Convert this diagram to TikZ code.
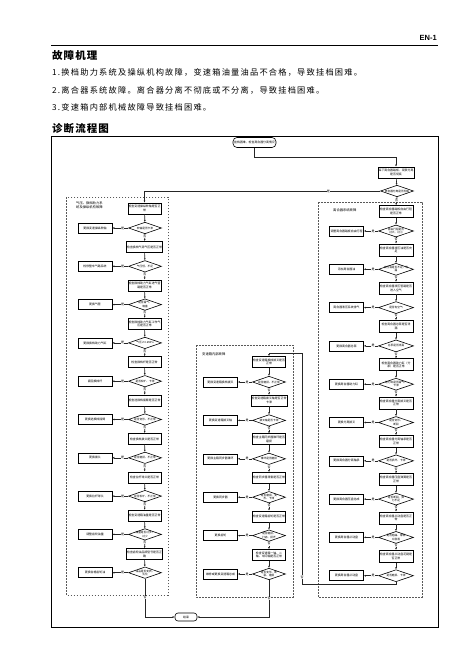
\documentclass[tikz,border=0pt]{standalone}
\usepackage{fontspec}
\setmainfont{Noto Sans CJK SC}
\newfontfamily\arialf{Liberation Sans}
\usetikzlibrary{shapes.geometric,arrows.meta}
\newcommand\hdrfont{\fontsize{8.2}{9}\selectfont\addfontfeature{LetterSpace=15}}
\newcommand\ttlfont{\bfseries\fontsize{10.5}{11}\selectfont\addfontfeature{LetterSpace=10}}
\begin{document}
\begin{tikzpicture}[x=1pt,y=-1pt,
  box/.style={draw, line width=0.6pt, minimum width=33pt, minimum height=11pt, inner sep=0.4pt, align=center, font=\fontsize{2.9}{3.6}\selectfont},
  act/.style={box, minimum width=34pt, minimum height=10pt},
  decs/.style={diamond, draw, line width=0.6pt, minimum width=33pt, minimum height=11.5pt, inner sep=0pt},
  dtxt/.style={align=center, inner sep=0pt, font=\fontsize{2.7}{3.3}\selectfont},
  term/.style={draw, line width=0.6pt, rounded corners=4pt, minimum width=43pt, minimum height=10pt, inner sep=0.4pt, font=\fontsize{2.9}{3.6}\selectfont},
  lab/.style={fill=white, inner sep=0.3pt, font=\fontsize{3}{3}\selectfont},
  arr/.style={line width=0.6pt, draw=black!85, -{Latex[length=2pt,width=1.8pt]}},
  grp/.style={draw=black!65, dash pattern=on 1.6pt off 1.4pt, line width=0.5pt},
  glab/.style={anchor=north west, align=left, inner sep=0pt, font=\fontsize{3.3}{4}\selectfont}
]
\useasboundingbox (0,0) rectangle (471,661);

% ---------- header ----------
\node[anchor=east, inner sep=0pt, font=\arialf\bfseries\fontsize{7.5}{8}\selectfont] (en) at (437,37.5) {EN-1};
\draw[line width=0.8pt] (51,45) -- (438,45);
\node[anchor=west, inner sep=0pt, font=\ttlfont] (h1) at (52,55.5) {故障机理};
\node[anchor=west, inner sep=0pt, font=\hdrfont] (p1) at (52,72.5) {1.换档助力系统及操纵机构故障，变速箱油量油品不合格，导致挂档困难。};
\node[anchor=west, inner sep=0pt, font=\hdrfont] (p2) at (52,90) {2.离合器系统故障。离合器分离不彻底或不分离，导致挂档困难。};
\node[anchor=west, inner sep=0pt, font=\hdrfont] (p3) at (52,107.5) {3.变速箱内部机械故障导致挂档困难。};
\node[anchor=west, inner sep=0pt, font=\ttlfont] (h2) at (52,129) {诊断流程图};

% ---------- frame ----------
\draw[line width=0.8pt] (51,136.7) rectangle (438,627);

% ---------- groups ----------
\draw[grp] (66.7,197) rectangle (168,595);
\draw[grp] (196,345) rectangle (293,597);
\draw[grp] (318,202) rectangle (422,597);
\node[glab] (gl) at (76,201.5) {气压、换档助力系\\统及操纵机构故障};
\node[glab] (gm) at (202,352) {变速箱内部故障};
\node[glab] (gr) at (333,209) {离合器系统故障};

% ---------- top ----------
\node[term] (start) at (254.5,142.5) {挂档困难，检查离合器分离情况};
\node[box, minimum width=34pt] (T1) at (396,172.5) {踩下离合器踏板，观察分离\\是否彻底};
\node[decs] (DT) at (397,191) {};
\node[dtxt] (DTt) at (DT) {离合器分离是否彻底};

% ---------- left column ----------
\foreach \bx/\dx/\ax [count=\i from 1] in {
 {检查变速操纵软轴是否正\\常}/{软轴是否卡滞}/{更换变速操纵软轴},
 {检查换档气源气压是否正常}/{气压低、不足}/{检修整车气路系统},
 {检查换档助力气缸进气管\\路是否正常}/{是否漏气、\\堵塞}/{更换气管},
 {检查换档助力气缸工作气\\压是否正常}/{气压≥0.6MPa}/{更换换档助力气缸},
 {检查换档杆是否正常}/{是否松旷、卡滞}/{紧固换档杆},
 {检查选换档摇臂是否正常}/{是否变形、不正常}/{更换选换档摇臂},
 {检查换档拨头是否正常}/{是否磨损、不正常}/{更换拨头},
 {检查拉杆球头是否正常}/{是否松旷、不正常}/{更换拉杆球头},
 {检查变速箱油量是否正常}/{油量是否过多、\\过少}/{调整齿轮油量},
 {检查齿轮油品牌型号是否正\\确}/{油品是否变质、\\乳化}/{更换合格齿轮油}} {
  \pgfmathsetmacro\yb{208.5+38.4*(\i-1)}
  \pgfmathsetmacro\yd{228+38.3*(\i-1)}
  \node[box] (L\i) at (144.5,\yb) {\bx};
  \node[decs] (LD\i) at (145,\yd) {};
  \node[dtxt] (LDt\i) at (LD\i) {\dx};
  \node[act] (LA\i) at (95,\yd) {\ax};
  \draw[arr] (L\i) -- (LD\i);
  \draw[arr] (LD\i) -- node[lab,pos=0.35]{是} (LA\i);
}
\foreach \i [evaluate=\i as \j using int(\i+1)] in {1,...,9} {
  \draw[arr] (LD\i) -- node[lab,pos=0.3]{否} (L\j);
}

% ---------- middle column ----------
\foreach \bx/\dx/\ax [count=\i from 1] in {
 {检查变速箱换档拨叉是否\\正常}/{是否磨损、不正常}/{更换变速箱换档拨叉},
 {检查变速箱拨叉轴是否正常\\卡滞}/{拨叉轴是否卡滞}/{更换变速箱拨叉轴},
 {检查主箱同步器锥环是否\\磨损}/{锥环是否磨损}/{更换主箱同步器锥环},
 {检查同步器滑套是否正常}/{是否磨损、变\\形、卡滞}/{更换同步器},
 {检查变速箱齿轮是否正常}/{是否磨损、\\打齿、损坏}/{更换齿轮},
 {检查变速箱一轴、二\\轴、中间轴是否正常}/{是否变形、断\\裂、磨损}/{维修或更换变速箱总成}} {
  \pgfmathsetmacro\yb{362+38.6*(\i-1)}
  \pgfmathsetmacro\yd{382+38.4*(\i-1)}
  \node[box] (M\i) at (269,\yb) {\bx};
  \node[decs] (MD\i) at (269,\yd) {};
  \node[dtxt] (MDt\i) at (MD\i) {\dx};
  \node[act] (MA\i) at (220.5,\yd) {\ax};
  \draw[arr] (M\i) -- (MD\i);
  \draw[arr] (MD\i) -- node[lab,pos=0.35]{是} (MA\i);
}
\foreach \i [evaluate=\i as \j using int(\i+1)] in {1,...,5} {
  \draw[arr] (MD\i) -- node[lab,pos=0.3]{否} (M\j);
}

% ---------- right column ----------
\foreach \bx/\dx/\ax [count=\i from 1] in {
 {检查离合器踏板自由行程\\是否正常}/{自由行程是否\\过大、过小}/{调整离合器踏板自由行程},
 {检查离合器液压油是否充\\足}/{液压油是否不足、泄\\漏}/{添加离合器油},
 {检查离合器液压管路是否\\进入空气}/{是否有空气}/{离合器液压系统排气},
 {检查离合器总泵是否泄\\漏}/{总泵是否泄漏}/{更换离合器总泵},
 {检查离合器助力缸（分\\泵）是否正常}/{助力缸是否漏气、\\卡滞}/{更换离合器助力缸},
 {检查离合器分离拨叉是否\\正常}/{是否变形、\\断裂}/{更换分离拨叉},
 {检查离合器分离轴承是否\\正常}/{是否损坏、卡滞}/{更换离合器分离轴承},
 {检查离合器压盘弹簧是否\\正常}/{是否断裂、弹\\力不足}/{更换离合器压盘总成},
 {检查离合器从动盘是否正\\常}/{是否翘曲、摩擦\\片脱落}/{更换离合器从动盘},
 {检查离合器从动盘花键是\\否正常}/{是否磨损、卡滞}/{更换离合器从动盘}} {
  \pgfmathsetmacro\yb{211.5+38.3*(\i-1)}
  \pgfmathsetmacro\yd{231+38.3*(\i-1)}
  \node[box, minimum width=34pt, minimum height=12pt] (R\i) at (396,\yb) {\bx};
  \node[decs, minimum width=35pt, minimum height=12pt] (RD\i) at (396,\yd) {};
  \node[dtxt] (RDt\i) at (RD\i) {\dx};
  \node[act] (RA\i) at (346.5,\yd) {\ax};
  \draw[arr] (R\i) -- (RD\i);
  \draw[arr] (RD\i) -- node[lab,pos=0.35]{是} (RA\i);
}
\foreach \i [evaluate=\i as \j using int(\i+1)] in {1,...,9} {
  \draw[arr] (RD\i) -- node[lab,pos=0.3]{否} (R\j);
}

% ---------- end ----------
\node[term, minimum width=22pt, minimum height=8pt, rounded corners=3pt] (END) at (186,617) {结束};

% ---------- main connectors ----------
\draw[arr] (start.south) -- ++(0,9.5) -| (T1.north);
\draw[arr] (T1) -- (DT);
\draw[arr] (DT.west) -| node[lab,pos=0.11]{是} (L1.north);
\draw[arr] (DT.south) -- node[lab,pos=0.4]{否} (R1.north);
\coordinate (rb) at (302,584);
\coordinate (rt) at (302,353);
\draw[arr] (RD10.south) |- (rb) -- node[lab,pos=0.03]{否} (rt) -| (M1.north);
\draw[arr] (LD10.south) |- node[lab,pos=0.25]{否} (END.west);
\draw[arr] (MD6.south) |- node[lab,pos=0.25]{否} (END.east);
\end{tikzpicture}
\end{document}
